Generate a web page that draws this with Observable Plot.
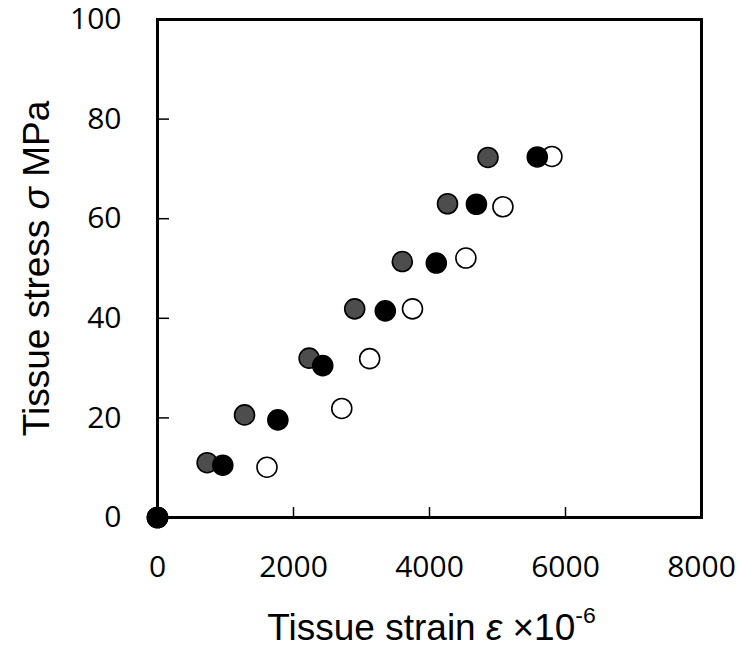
<!DOCTYPE html>
<html>
<head>
<meta charset="utf-8">
<script src="https://cdn.jsdelivr.net/npm/d3@7"></script>
<script src="https://cdn.jsdelivr.net/npm/@observablehq/plot@0.6"></script>
<style>
  html, body { margin: 0; padding: 0; background: #fff; }
</style>
</head>
<body>
<div id="chart"></div>
<script>
// Series: dark gray, black, white (open) circles
const grayStrain  = [0, 730, 1280, 2230, 2900, 3600, 4265, 4860];
const grayStress  = [0, 11.0, 20.6, 32.0, 41.9, 51.4, 63.0, 72.3];
const blackStrain = [0, 960, 1770, 2430, 3350, 4100, 4690, 5585];
const blackStress = [0, 10.5, 19.6, 30.5, 41.5, 51.1, 62.9, 72.4];
const whiteStrain = [0, 1610, 2710, 3120, 3750, 4535, 5080, 5800];
const whiteStress = [0, 10.1, 21.9, 31.9, 41.9, 52.1, 62.4, 72.5];

const xTickLabels = [0, 2000, 4000, 6000, 8000];
const yTickLabels = [0, 20, 40, 60, 80, 100];
const xInnerTicks = [2000, 4000, 6000];
const yInnerTicks = [20, 40, 60, 80];

const xTitle = "Tissue strain ε ×10-6";
const yTitle = "Tissue stress σ MPa";

const toRows = (xs, ys) => xs.map((x, i) => ({strain: x, stress: ys[i]}));
const gray = toRows(grayStrain, grayStress);
const black = toRows(blackStrain, blackStress);
const white = toRows(whiteStrain, whiteStress);

const dotOpts = {x: "strain", y: "stress", r: 10, stroke: "black", strokeWidth: 1.6};

const chart = Plot.plot({
  width: 743,
  height: 654,
  marginLeft: 157,
  marginRight: 42,
  marginTop: 19,
  marginBottom: 137,
  style: {fontFamily: "'Open Sans', sans-serif", background: "#fff", overflow: "visible"},
  x: {domain: [0, 8000], label: null},
  y: {domain: [0, 100], label: null},
  marks: [
    Plot.axisX(xTickLabels, {tickSize: 0, tickPadding: 38, fontSize: 30, label: null, fill: "black", tickFormat: d => String(d)}),
    Plot.axisY(yTickLabels, {tickSize: 0, tickPadding: 36, fontSize: 30, label: null, fill: "black", tickFormat: d => String(d)}),
    Plot.axisX(xInnerTicks, {tickSize: -10, tickFormat: () => "", label: null, strokeWidth: 1.5, stroke: "black"}),
    Plot.axisY(yInnerTicks, {tickSize: -12, tickFormat: () => "", label: null, strokeWidth: 1.5, stroke: "black"}),
    Plot.frame({stroke: "black", strokeWidth: 3}),
    Plot.text([xTitle], {frameAnchor: "bottom", textAnchor: "middle", lineAnchor: "top", dy: 96, dx: 2, fontSize: 37, fontFamily: "'Liberation Sans', Arial, sans-serif", fill: "black", text: d => d}),
    Plot.text([yTitle], {frameAnchor: "left", textAnchor: "middle", rotate: -90, lineAnchor: "middle", dx: -120, fontSize: 37, fontFamily: "'Liberation Sans', Arial, sans-serif", fill: "black", text: d => d}),
    Plot.dot(gray, {...dotOpts, fill: "#4d4d4d"}),
    Plot.dot(white, {...dotOpts, fill: "white"}),
    Plot.dot(black, {...dotOpts, fill: "black"})
  ]
});

// italicise the Greek symbols and raise the exponent
d3.select(chart).selectAll("text").each(function() {
  const t = this.textContent;
  if (t === xTitle) {
    const s = d3.select(this);
    s.text(null);
    s.append("tspan").text("Tissue strain ");
    s.append("tspan").attr("font-style", "italic").text("ε");
    s.append("tspan").text(" ×10");
    s.append("tspan").attr("font-size", "0.62em").attr("dy", "-0.75em").text("-6");
  } else if (t === yTitle) {
    const s = d3.select(this);
    s.text(null);
    s.append("tspan").text("Tissue stress ");
    s.append("tspan").attr("font-style", "italic").text("σ");
    s.append("tspan").text(" MPa");
  }
});

document.getElementById("chart").appendChild(chart);
</script>
</body>
</html>
